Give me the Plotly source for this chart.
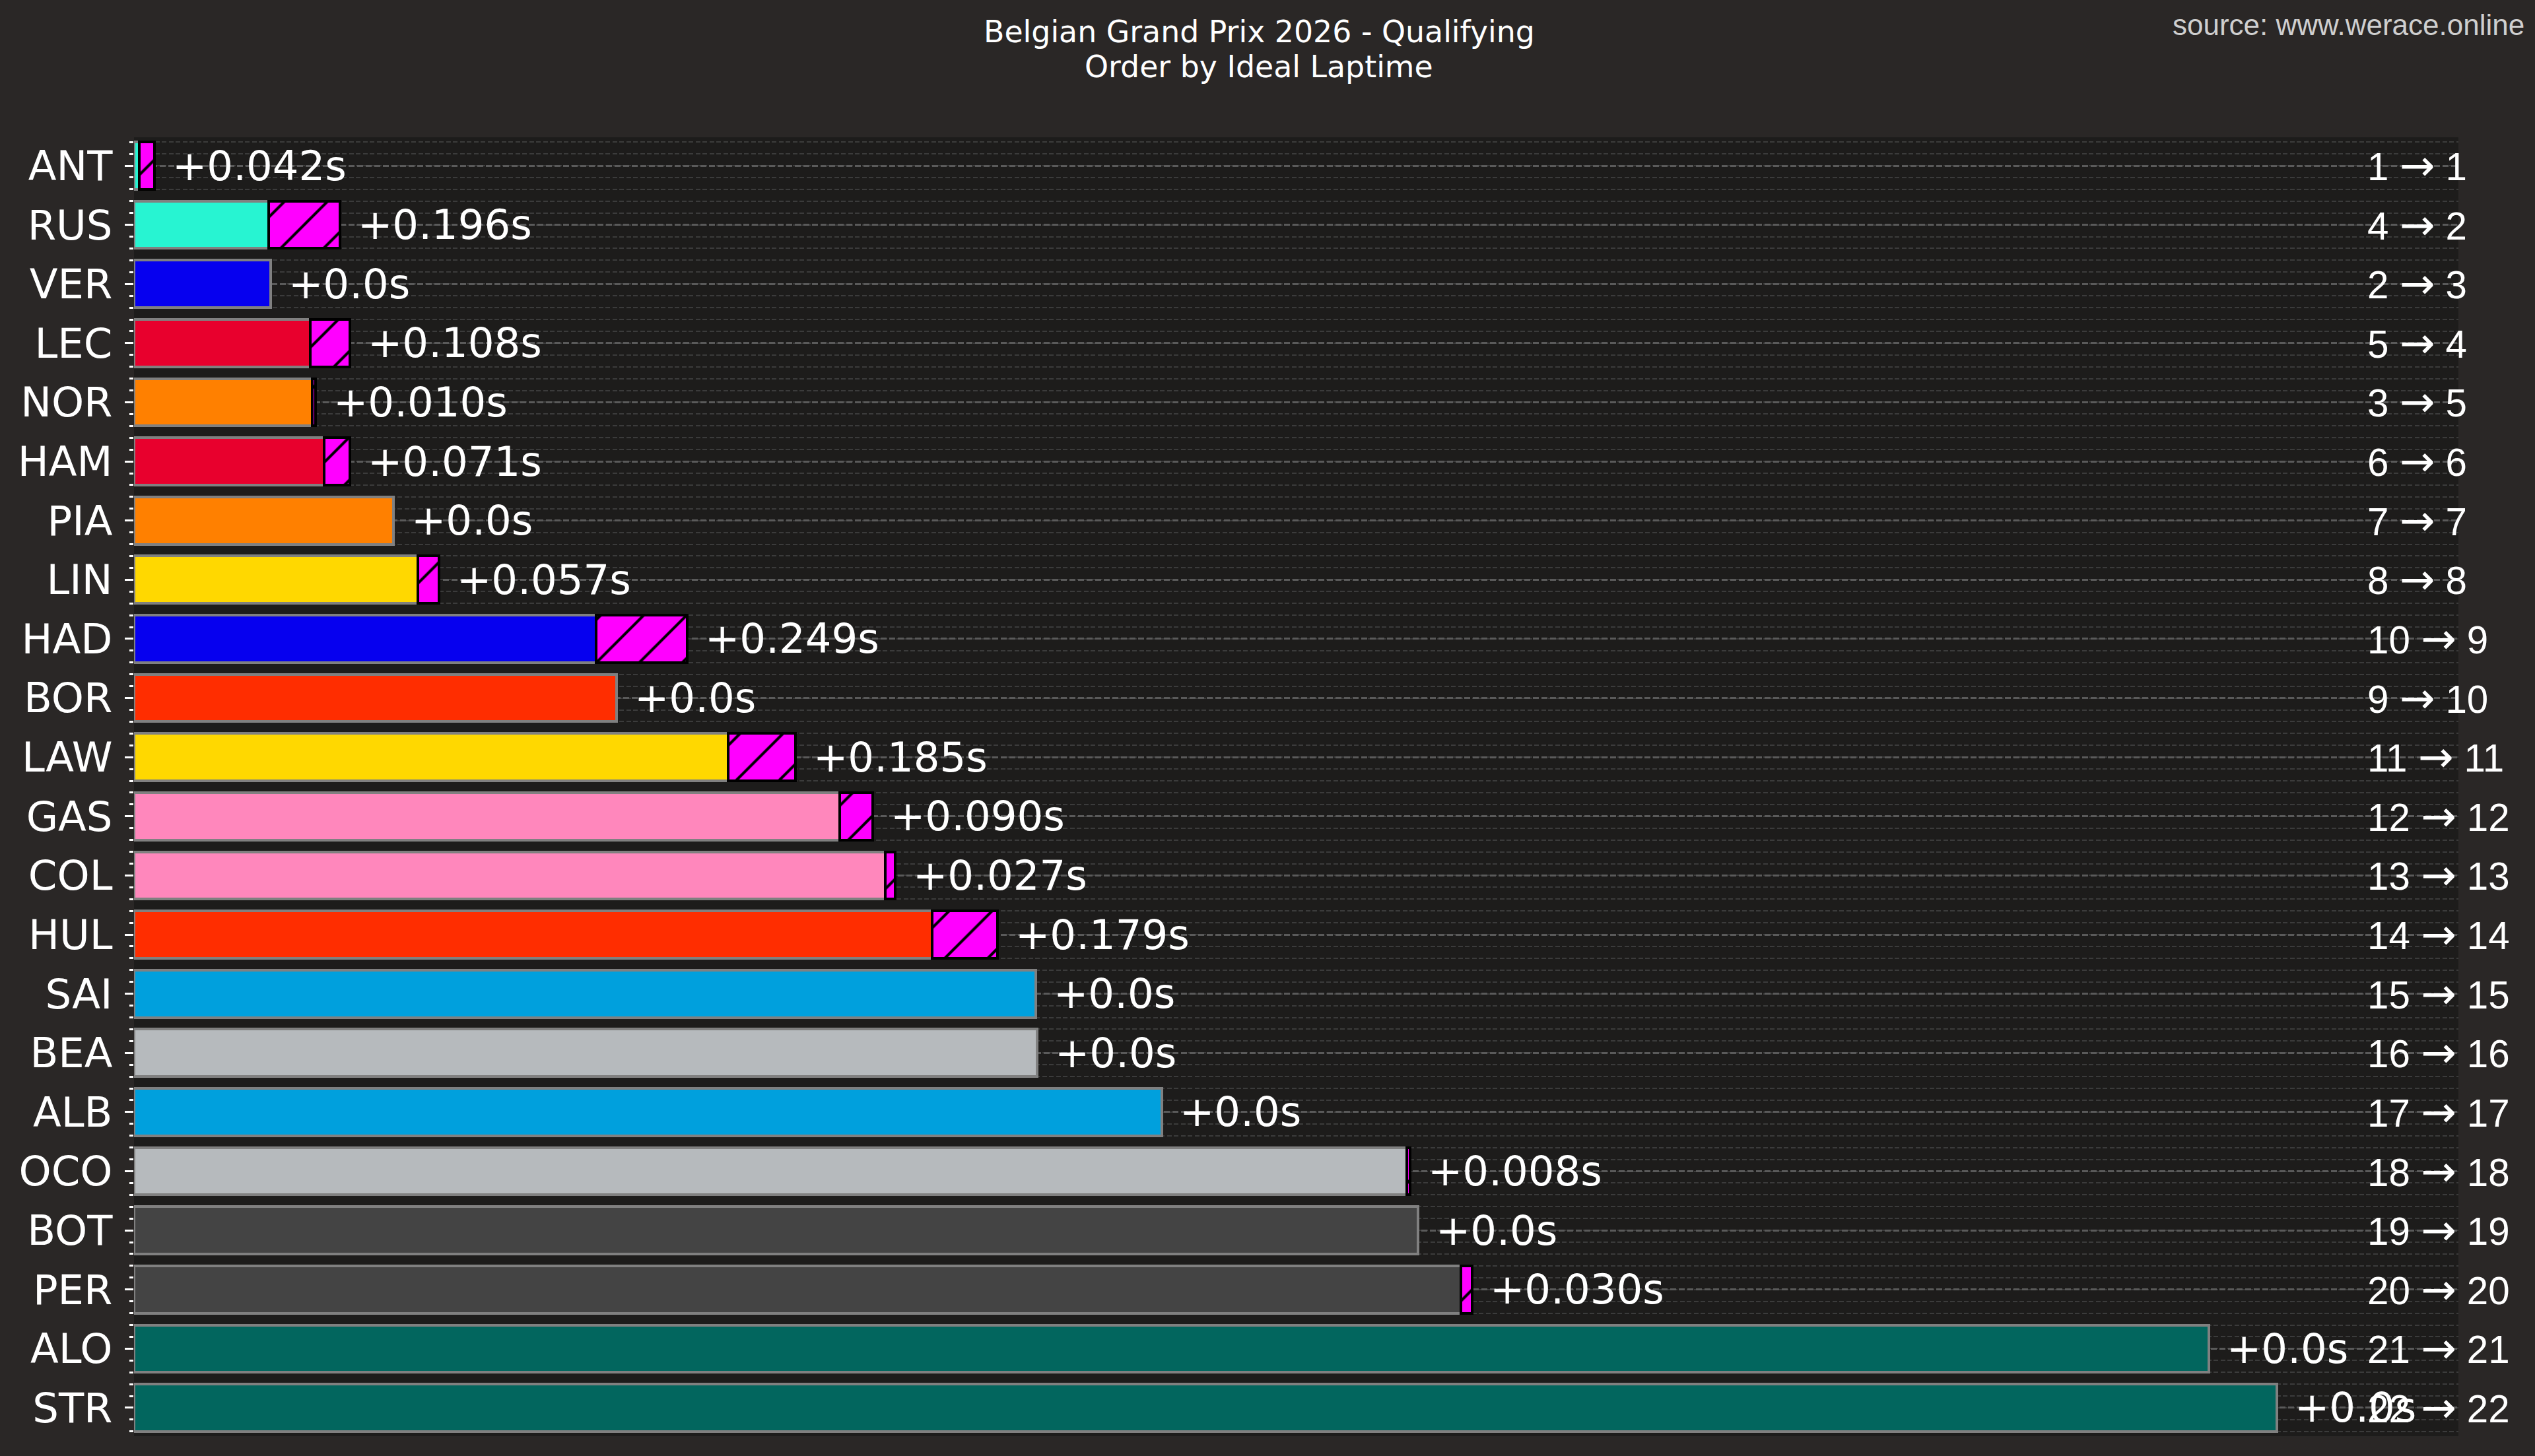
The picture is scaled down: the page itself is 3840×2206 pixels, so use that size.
import plotly.graph_objects as go

# ---------------- data ----------------
drivers = ["ANT", "RUS", "VER", "LEC", "NOR", "HAM", "PIA", "LIN", "HAD", "BOR", "LAW",
           "GAS", "COL", "HUL", "SAI", "BEA", "ALB", "OCO", "BOT", "PER", "ALO", "STR"]
ideal_gap = [0.014, 0.369, 0.374, 0.483, 0.488, 0.521, 0.711, 0.778, 1.266, 1.322, 1.627,
             1.933, 2.058, 2.186, 2.470, 2.474, 2.816, 3.487, 3.517, 3.635, 5.684, 5.870]
potential_gain = [0.042, 0.196, 0.0, 0.108, 0.010, 0.071, 0.0, 0.057, 0.249, 0.0, 0.185,
                  0.090, 0.027, 0.179, 0.0, 0.0, 0.0, 0.008, 0.0, 0.030, 0.0, 0.0]
quali_pos = [1, 4, 2, 5, 3, 6, 7, 8, 10, 9, 11, 12, 13, 14, 15, 16, 17, 18, 19, 20, 21, 22]
ideal_pos = [1, 2, 3, 4, 5, 6, 7, 8, 9, 10, 11, 12, 13, 14, 15, 16, 17, 18, 19, 20, 21, 22]
team_colors = ["#27F4D2", "#27F4D2", "#0600EF", "#E8002D", "#FF8000", "#E8002D", "#FF8000",
               "#FFD800", "#0600EF", "#FF2D00", "#FFD800", "#FF87BC", "#FF87BC", "#FF2D00",
               "#00A0DD", "#B6BABD", "#00A0DD", "#B6BABD", "#444444", "#444444", "#02665E",
               "#02665E"]
title_line1 = "Belgian Grand Prix 2026 - Qualifying"
title_line2 = "Order by Ideal Laptime"
source_text = "source: www.werace.online"

# ---------------- styling ----------------
FIG_BG = "#2a2726"
PLOT_BG = "#1d1c1b"
W, H = 3840, 2206
ML, MR, MT, MB = 203, 116, 208, 30
PX_PER_S = 553.0
plot_w = W - ML - MR
plot_h = H - MT - MB
x_max = plot_w / PX_PER_S
LABEL_FS = 62.5

ypos = list(range(len(drivers)))
totals = [a + b for a, b in zip(ideal_gap, potential_gain)]
gain_x = [g if g > 0 else None for g in potential_gain]
value_labels = [("+%.3fs" % g) if g > 0 else "+0.0s" for g in potential_gain]
ARROW = "<span style=\"font-family:'DejaVu Sans';font-size:64px\">\u2192</span>"
pos_labels = ["%d %s %d" % (q, ARROW, p) for q, p in zip(quali_pos, ideal_pos)]

fig = go.Figure()
fig.add_trace(go.Bar(
    x=ideal_gap, y=ypos, orientation="h", width=0.8,
    marker=dict(color=team_colors, line=dict(color="#808080", width=4)),
    showlegend=False, hoverinfo="skip",
))
fig.add_trace(go.Bar(
    x=gain_x, y=ypos, base=ideal_gap, orientation="h", width=0.8,
    marker=dict(color="#FF00FF", line=dict(color="#000000", width=4),
                pattern=dict(shape="/", fgcolor="#000000", bgcolor="#FF00FF",
                             size=46, solidity=0.09, fillmode="replace")),
    showlegend=False, hoverinfo="skip",
))

annotations = []
for yv, tot, lab in zip(ypos, totals, value_labels):
    annotations.append(dict(
        x=tot, y=yv, xref="x", yref="y", text=lab, showarrow=False,
        xanchor="left", yanchor="middle", xshift=25,
        font=dict(family="DejaVu Sans", size=LABEL_FS, color="#ffffff"),
    ))
for yv, lab in zip(ypos, pos_labels):
    annotations.append(dict(
        x=(3584 - ML) / plot_w, y=yv, xref="paper", yref="y", text=lab, showarrow=False,
        xanchor="left", yanchor="middle",
        font=dict(family="Liberation Sans", size=58.3, color="#ffffff"),
    ))

def py(ypx):
    return (H - MB - ypx) / plot_h

def px_(xpx):
    return (xpx - ML) / plot_w

annotations.append(dict(x=px_(1907), y=py(48), xref="paper", yref="paper", text=title_line1,
                        showarrow=False, xanchor="center", yanchor="middle",
                        font=dict(family="DejaVu Sans", size=45.8, color="#ffffff")))
annotations.append(dict(x=px_(1907), y=py(101), xref="paper", yref="paper", text=title_line2,
                        showarrow=False, xanchor="center", yanchor="middle",
                        font=dict(family="DejaVu Sans", size=45.8, color="#ffffff")))
annotations.append(dict(x=px_(3826), y=py(38), xref="paper", yref="paper", text=source_text,
                        showarrow=False, xanchor="right", yanchor="middle",
                        font=dict(family="Liberation Sans", size=44, color="#cfcfcf")))

fig.update_layout(
    width=W, height=H,
    margin=dict(l=ML, r=MR, t=MT, b=MB, pad=0),
    paper_bgcolor=FIG_BG, plot_bgcolor=PLOT_BG,
    barmode="overlay", bargap=0,
    annotations=annotations,
    xaxis=dict(range=[0, x_max], showgrid=False, zeroline=False, showticklabels=False,
               ticks="", showline=False, fixedrange=True),
    yaxis=dict(
        range=[len(drivers) - 1 + 0.48, -0.48],
        tickmode="array", tickvals=ypos, ticktext=drivers,
        ticks="outside", ticklen=13, tickwidth=3, tickcolor="#ffffff",
        ticklabelstandoff=6,
        tickfont=dict(family="DejaVu Sans", size=LABEL_FS, color="#ffffff"),
        showgrid=True, gridcolor="#5a5a5a", gridwidth=2.7, griddash="9px,4px",
        zeroline=False, showline=False,
        minor=dict(tickmode="linear", tick0=0, dtick=0.2, ticks="outside", ticklen=6,
                   tickwidth=3, tickcolor="#ffffff", showgrid=True, gridcolor="#3b3b3b",
                   gridwidth=2, griddash="7px,3.5px"),
    ),
)

fig.write_html("out.html")
